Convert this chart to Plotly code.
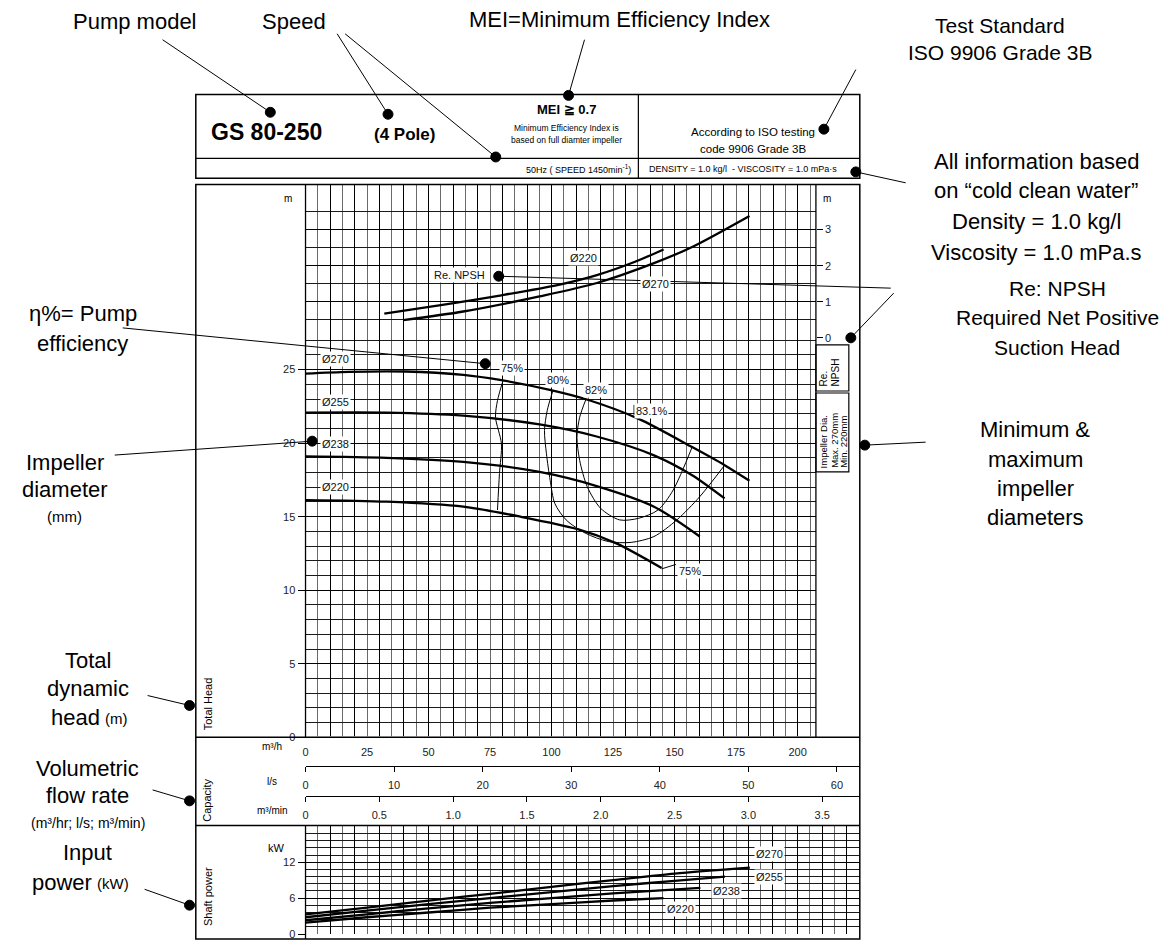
import plotly.graph_objects as go

W, H = 1173, 940

# ---------------- data ----------------
# Head curves (Q in m3/h, H in m)
q270 = [0, 17.5, 40.8, 64.1, 79.6, 99.7, 113.7, 135.4, 157.1, 170.3, 180.4]
h270 = [24.73, 24.85, 24.87, 24.64, 24.28, 23.61, 23.0, 21.65, 19.73, 18.5, 17.44]
q255 = [0, 33, 64.1, 95.1, 118.3, 141.6, 157.1, 170.3]
h255 = [22.08, 22.08, 21.87, 21.27, 20.45, 19.17, 17.82, 16.24]
q238 = [0, 33, 64.1, 95.1, 118.3, 141.6, 160.2]
h238 = [19.1, 19.0, 18.72, 18.04, 17.08, 15.68, 13.65]
q220 = [0, 33, 64.1, 87.3, 110.6, 126.1, 144.7]
h220 = [16.13, 16.02, 15.68, 15.0, 14.15, 13.2, 11.51]

# Efficiency iso-lines
eff75_q = [80.3, 78.0, 77.2, 79.6, 78.8, 78.0]
eff75_h = [24.28, 22.89, 21.76, 19.96, 17.93, 15.45]
eff80_q = [100.5, 98.2, 97.1, 97.9, 99.4, 101.3, 105.9, 113.7, 123.0, 132.3, 141.6, 150.9, 160.2, 170.3]
eff80_h = [23.56, 22.21, 20.86, 19.28, 17.48, 15.9, 14.78, 13.88, 13.31, 13.25, 13.65, 14.78, 16.36, 18.5]
eff82_q = [114.0, 111.4, 110.3, 111.4, 114.5, 119.9, 127.6, 135.4, 143.2, 149.4, 157.1]
eff82_h = [23.0, 21.76, 20.41, 18.83, 17.03, 15.57, 14.78, 14.89, 15.45, 16.81, 19.73]

# NPSH required (m)
npsh220_q = [32, 56.3, 79.6, 102.8, 118.4, 133.9, 145.5]
npsh220_v = [0.67, 0.92, 1.18, 1.47, 1.74, 2.11, 2.45]
npsh270_q = [39.7, 64.1, 95.1, 118.4, 141.6, 157.1, 180.4]
npsh270_v = [0.49, 0.73, 1.15, 1.52, 2.07, 2.52, 3.38]

# Shaft power (kW)
p270_q = [0, 25, 50, 75, 100, 125, 150, 180.6]
p270_v = [3.3, 4.4, 5.6, 6.7, 7.9, 9.0, 10.1, 11.1]
p255_q = [0, 25, 50, 75, 100, 125, 150, 170.5]
p255_v = [2.8, 3.9, 5.0, 6.0, 7.0, 8.0, 8.9, 9.6]
p238_q = [0, 25, 50, 75, 100, 125, 160.5]
p238_v = [2.3, 3.3, 4.3, 5.2, 6.0, 6.8, 7.7]
p220_q = [0, 25, 50, 75, 100, 125, 145.5]
p220_v = [1.9, 2.8, 3.6, 4.4, 5.0, 5.6, 6.0]

flow_ticks_m3h = [0, 25, 50, 75, 100, 125, 150, 175, 200]
flow_ticks_ls = [0, 10, 20, 30, 40, 50, 60]
flow_ticks_m3min = [0, 0.5, 1.0, 1.5, 2.0, 2.5, 3.0, 3.5]
flow_ticks_m3min_text = ["0", "0.5", "1.0", "1.5", "2.0", "2.5", "3.0", "3.5"]

# ---------------- helpers ----------------
def px(x):
    return x / W

def py(y):
    return 1 - y / H

FONT = "Liberation Sans, Arial, Helvetica, sans-serif"
fig = go.Figure()

def line_trace(q, v, xa, ya, width=2.2):
    fig.add_trace(go.Scatter(x=q, y=v, xaxis=xa, yaxis=ya, mode="lines",
                             line=dict(color="black", width=width, shape="spline", smoothing=0.8),
                             showlegend=False, hoverinfo="skip"))

for q, h in [(q270, h270), (q255, h255), (q238, h238), (q220, h220)]:
    line_trace(q, h, "x", "y", 2.3)
for q, h in [(eff75_q, eff75_h), (eff80_q, eff80_h), (eff82_q, eff82_h)]:
    line_trace(q, h, "x", "y", 1.0)
for q, h in [(npsh220_q, npsh220_v), (npsh270_q, npsh270_v)]:
    line_trace(q, h, "x2", "y2", 2.3)
for q, h in [(p270_q, p270_v), (p255_q, p255_v), (p238_q, p238_v), (p220_q, p220_v)]:
    line_trace(q, h, "x3", "y3", 2.3)
# dummy traces so that capacity scales are drawn
for xa, ya in [("x4", "y4"), ("x5", "y5"), ("x6", "y6")]:
    fig.add_trace(go.Scatter(x=[0], y=[0], xaxis=xa, yaxis=ya, mode="markers",
                             marker=dict(opacity=0), showlegend=False, hoverinfo="skip"))

GRID_MAJ = "#000000"
GRID_MIN = "#6a6a6a"

def xgrid(domain, rng, anchor):
    return dict(domain=domain, range=rng, anchor=anchor, showgrid=True, tick0=0, dtick=10,
                gridcolor=GRID_MAJ, gridwidth=1, showticklabels=False, ticks="",
                zeroline=False, showline=False,
                minor=dict(dtick=5, tick0=0, showgrid=True, gridcolor=GRID_MIN, gridwidth=1))

tickfont = dict(family=FONT, size=11, color="#222")

fig.update_layout(
    width=W, height=H, margin=dict(l=0, r=0, t=0, b=0),
    paper_bgcolor="white", plot_bgcolor="white",
    font=dict(family=FONT, color="black"),
    xaxis=xgrid([px(303.3), px(815)], [0, 207.4], "y"),
    yaxis=dict(domain=[py(742), py(340)], range=[0, 27.16], anchor="x", tick0=0, dtick=5,
               ticks="outside", ticklen=7, tickcolor="black", tickwidth=1, tickfont=tickfont,
               showgrid=True, gridcolor=GRID_MAJ, gridwidth=1, zeroline=False,
               minor=dict(dtick=1, tick0=0, showgrid=True, gridcolor="#1a1a1a", gridwidth=1)),
    xaxis2=dict(xgrid([px(303.3), px(815)], [0, 207.4], "y2"), matches="x"),
    yaxis2=dict(domain=[py(340), py(185.7)], range=[0, 4.25], anchor="x2", side="right",
                tickvals=[0, 1, 2, 3], ticks="outside", ticklen=6, tickcolor="black",
                tickfont=tickfont, showgrid=True, gridcolor=GRID_MAJ, zeroline=False,
                minor=dict(tickvals=[0.5, 1.5, 2.5, 3.5], showgrid=True, gridcolor="#1a1a1a")),
    xaxis3=xgrid([px(303.3), px(859)], [0, 225.3], "y3"),
    yaxis3=dict(domain=[0, py(831.7)], range=[0, 18], anchor="x3", tickvals=[0, 6, 12],
                ticks="outside", ticklen=7, tickcolor="black", tickfont=tickfont,
                showgrid=True, gridcolor=GRID_MAJ, zeroline=False,
                minor=dict(dtick=1.2, tick0=0, showgrid=True, gridcolor="#1a1a1a")),
    xaxis4=dict(domain=[px(303.3), px(859)], range=[0, 225.3], anchor="y4",
                tickvals=flow_ticks_m3h, ticks="outside", ticklen=3, tickcolor="rgba(0,0,0,0)",
                showgrid=False, zeroline=False, showline=False, tickfont=tickfont,
                ticklabelstandoff=2),
    yaxis4=dict(domain=[py(742), py(741)], visible=False, anchor="x4"),
    xaxis5=dict(domain=[px(303.3), px(859)], range=[0, 225.3 / 3.6], anchor="y5",
                tickvals=flow_ticks_ls, ticks="outside", ticklen=5, tickwidth=1.3,
                tickcolor="black", showline=True, linecolor="black", linewidth=1.3,
                showgrid=False, zeroline=False, tickfont=tickfont, ticklabelstandoff=4),
    yaxis5=dict(domain=[py(771), py(770)], visible=False, anchor="x5"),
    xaxis6=dict(domain=[px(303.3), px(859)], range=[0, 225.3 / 60], anchor="y6",
                tickvals=flow_ticks_m3min, ticktext=flow_ticks_m3min_text, ticks="outside",
                ticklen=5, tickwidth=1.3, tickcolor="black", showline=True, linecolor="black",
                linewidth=1.3, showgrid=False, zeroline=False, tickfont=tickfont,
                ticklabelstandoff=4),
    yaxis6=dict(domain=[py(801), py(800)], visible=False, anchor="x6"),
)

shapes = []
def seg(x0, y0, x1, y1, w=1.0, color="black"):
    shapes.append(dict(type="line", xref="paper", yref="paper", x0=px(x0), y0=py(y0),
                       x1=px(x1), y1=py(y1), line=dict(color=color, width=w)))

def rect(x0, y0, x1, y1, w=1.3):
    shapes.append(dict(type="rect", xref="paper", yref="paper", x0=px(x0), y0=py(y1),
                       x1=px(x1), y1=py(y0), line=dict(color="black", width=w), fillcolor="rgba(0,0,0,0)"))

def dot(cx, cy, r=5):
    shapes.append(dict(type="circle", xref="paper", yref="paper", x0=px(cx - r), y0=py(cy + r),
                       x1=px(cx + r), y1=py(cy - r), line=dict(color="black", width=1),
                       fillcolor="black"))

# frames
rect(193.3, 95, 859, 179.3, 1.5)
seg(193.3, 159.3, 859, 159.3, 1.2)
seg(637, 95, 637, 179.3, 1.2)
rect(193.3, 185.7, 859, 945, 1.5)
seg(193.3, 742, 859, 742, 1.5)
seg(193.3, 830.7, 859, 830.7, 1.5)
seg(815, 185.7, 815, 742, 1.3)
seg(303.3, 185.7, 303.3, 742, 1.3)
seg(303.3, 831, 303.3, 945, 1.3)
rect(815, 347, 848, 393.5, 1.2)
rect(815, 395.5, 848, 475, 1.2)

# leader lines
leaders = [
    ((160, 40), (268, 113)), ((335, 34), (386, 115)), ((343, 34), (494, 158)),
    ((583, 40), (567, 96)), ((855, 70), (823, 130)), ((905, 184), (855, 173)),
    ((890, 290), (497, 278)), ((893, 295), (850, 340)), ((925, 445), (864, 448)),
    ((120, 330), (483.5, 366)), ((112, 458), (310, 444)), ((145, 700), (187, 710)),
    ((150, 795), (187, 806)), ((142, 895), (187, 911)),
]
for (a, b) in leaders:
    seg(a[0], a[1], b[0], b[1], 1.0)
    dot(b[0], b[1])

# small leader ticks for efficiency labels (data coords)
shapes.append(dict(type="line", xref="x", yref="y", x0=144.7, y0=11.45, x1=150.5, y1=11.75,
                   line=dict(color="black", width=1)))
shapes.append(dict(type="line", xref="x", yref="y", x0=133.5, y0=21.9, x1=133.5, y1=22.6,
                   line=dict(color="black", width=1)))
fig.update_layout(shapes=shapes)

ann = []
def txt(x, y, s, size=22, xanchor="center", yanchor="middle", bold=False, angle=0, bg=None,
        color="black"):
    if bold:
        s = "<b>" + s + "</b>"
    d = dict(x=px(x), y=py(y), xref="paper", yref="paper", text=s, showarrow=False,
             xanchor=xanchor, yanchor=yanchor, textangle=angle,
             font=dict(family=FONT, size=size, color=color), borderpad=0)
    if bg:
        d["bgcolor"] = bg
    ann.append(d)

def dtxt(xr, yr, x, y, s, size=11, bg="white"):
    ann.append(dict(x=x, y=y, xref=xr, yref=yr, text=s, showarrow=False, xanchor="center",
                    yanchor="middle", font=dict(family=FONT, size=size, color="#111"),
                    bgcolor=bg, borderpad=1))

# header
txt(264, 133, "GS 80-250", 23, bold=True)
txt(403, 135, "(4 Pole)", 17, bold=True)
txt(565, 110, "MEI ≧ 0.7", 13, bold=True)
txt(565, 129, "Minimum Efficiency Index is", 8.5)
txt(565, 141, "based on full diamter impeller", 8.5)
txt(752, 133, "According to ISO testing", 11.5)
txt(752, 150, "code 9906 Grade 3B", 11.5)
txt(631, 170, "50Hz ( SPEED 1450min<sup>-1</sup>)", 9, xanchor="right")
txt(647, 170, "DENSITY = 1.0 kg/l  - VISCOSITY = 1.0 mPa·s", 9, xanchor="left")

# axis unit labels
txt(286, 200, "m", 10)
txt(826, 200, "m", 10)
txt(274, 853, "kW", 11)
txt(270, 751.5, "m³/h", 10)
txt(270, 786.5, "l/s", 10)
txt(270, 816, "m³/min", 10)
txt(205, 736, "Total Head", 11, yanchor="bottom", angle=-90)
txt(205, 828, "Capacity", 11, yanchor="bottom", angle=-90)
txt(205, 933, "Shaft power", 11, yanchor="bottom", angle=-90)
# right column box texts
txt(823, 390, "Re.", 10, yanchor="bottom", angle=-90)
txt(835, 390, "NPSH", 10, yanchor="bottom", angle=-90)
txt(823, 472, "Impeller Dia.", 9.5, yanchor="bottom", angle=-90)
txt(833.5, 472, "Max. 270mm", 9.5, yanchor="bottom", angle=-90)
txt(843, 472, "Min. 220mm", 9.5, yanchor="bottom", angle=-90)

# curve labels (data coordinates)
dtxt("x", "y", 12.1, 25.7, "Ø270")
dtxt("x", "y", 12.1, 22.82, "Ø255")
dtxt("x", "y", 12.1, 19.96, "Ø238")
dtxt("x", "y", 12.1, 16.99, "Ø220")
dtxt("x", "y", 84.0, 25.14, "75%")
dtxt("x", "y", 102.6, 24.3, "80%")
dtxt("x", "y", 118.0, 23.6, "82%")
dtxt("x", "y", 140.5, 22.17, "83.1%")
dtxt("x", "y", 156.3, 11.3, "75%")
dtxt("x2", "y2", 113.0, 2.2, "Ø220")
dtxt("x2", "y2", 62.5, 1.73, "Re. NPSH")
dtxt("x2", "y2", 142.4, 1.5, "Ø270")
dtxt("x3", "y3", 188.5, 13.3, "Ø270")
dtxt("x3", "y3", 188.5, 9.6, "Ø255")
dtxt("x3", "y3", 171.0, 7.2, "Ø238")
dtxt("x3", "y3", 152.5, 4.2, "Ø220")

# outer callouts
txt(132, 22, "Pump model")
txt(292, 22, "Speed")
txt(618, 20, "MEI=Minimum Efficiency Index")
txt(1000, 26, "Test Standard", 21)
txt(1000, 53, "ISO 9906 Grade 3B", 21)
txt(1036, 163, "All information based")
txt(1036, 192, "on “cold clean water”")
txt(1036, 223, "Density = 1.0 kg/l")
txt(1036, 254, "Viscosity = 1.0 mPa.s")
txt(1057, 290, "Re: NPSH", 21)
txt(1057, 320, "Required Net Positive", 21)
txt(1057, 350, "Suction Head", 21)
txt(1035, 432, "Minimum &")
txt(1035, 462, "maximum")
txt(1035, 492, "impeller")
txt(1035, 521, "diameters")
txt(80, 316, "η%= Pump")
txt(80, 346, "efficiency")
txt(62, 465, "Impeller")
txt(62, 493, "diameter")
txt(62, 520, "(mm)", 15)
txt(85, 665, "Total")
txt(85, 693, "dynamic")
txt(98, 722, "head", xanchor="right")
txt(101, 723, "(m)", 15, xanchor="left")
txt(85, 773, "Volumetric")
txt(85, 801, "flow rate")
txt(85, 828, "(m³/hr; l/s; m³/min)", 14)
txt(85, 858, "Input")
txt(90, 888, "power", xanchor="right")
txt(93, 889, "(kW)", 15, xanchor="left")

fig.update_layout(annotations=ann)
fig.write_html("out.html")
